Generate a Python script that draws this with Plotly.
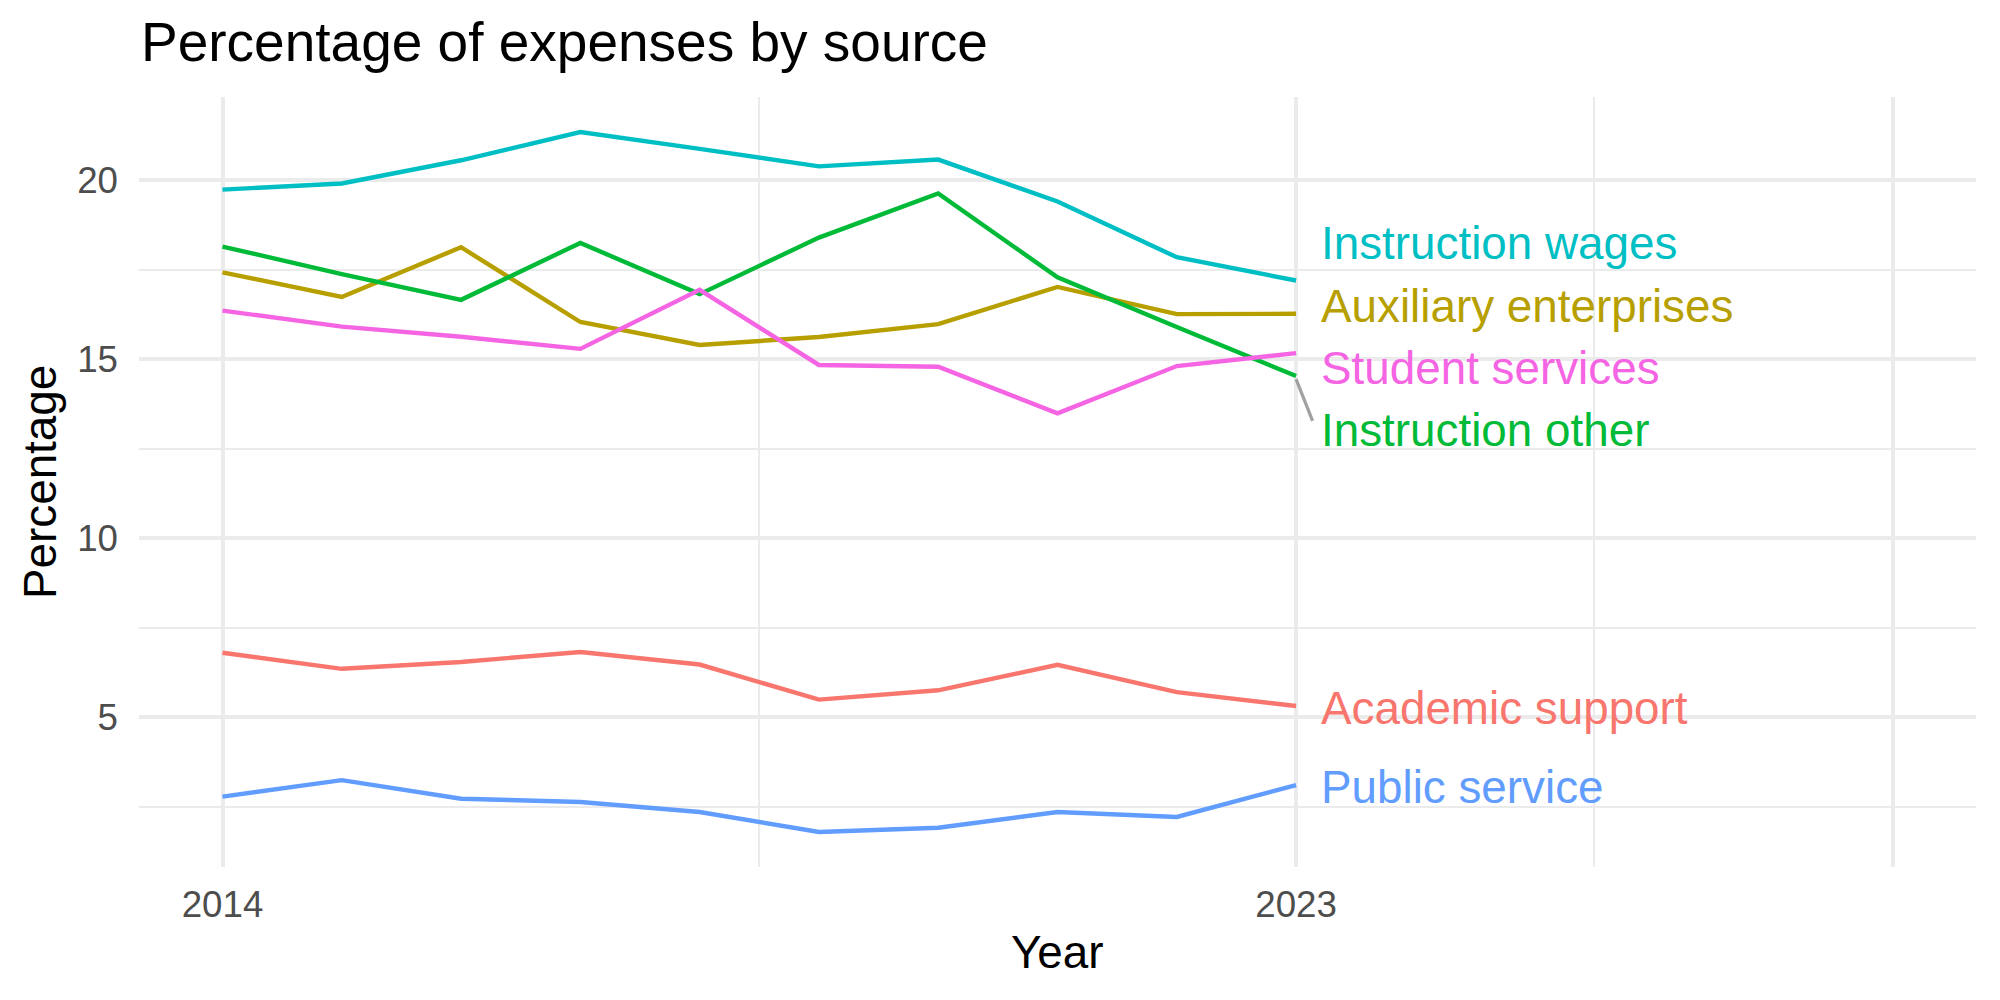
import plotly.graph_objects as go

# ---------------- data ----------------
years = [2014, 2015, 2016, 2017, 2018, 2019, 2020, 2021, 2022, 2023]

academic_support = [6.80, 6.35, 6.54, 6.82, 6.47, 5.49, 5.75, 6.46, 5.70, 5.31]
auxiliary_enterprises = [17.43, 16.74, 18.13, 16.04, 15.40, 15.62, 15.98, 17.02, 16.26, 16.27]
instruction_other = [18.15, 17.38, 16.66, 18.25, 16.82, 18.40, 19.63, 17.29, 15.90, 14.53]
instruction_wages = [19.74, 19.91, 20.56, 21.35, 20.88, 20.39, 20.58, 19.41, 17.85, 17.20]
public_service = [2.78, 3.24, 2.72, 2.63, 2.35, 1.79, 1.91, 2.35, 2.21, 3.10]
student_services = [16.36, 15.91, 15.63, 15.29, 16.94, 14.84, 14.79, 13.49, 14.81, 15.17]

series_names = ["Academic support", "Auxiliary enterprises", "Instruction other",
                "Instruction wages", "Public service", "Student services"]
series_values = [academic_support, auxiliary_enterprises, instruction_other,
                 instruction_wages, public_service, student_services]

x_tick_vals = [2014, 2023, 2028]
x_tick_text = ["2014", "2023", ""]
x_minor_vals = [2018.5, 2025.5]
y_tick_vals = [5, 10, 15, 20]
y_tick_text = ["5", "10", "15", "20"]
y_minor_vals = [2.5, 7.5, 12.5, 17.5]
x_limits = [2014, 2028]

# ---------------- style ----------------
colors = ["#F8766D", "#B79F00", "#00BA38", "#00BFC4", "#619CFF", "#F564E3"]
FONT = "Liberation Sans, Arial, Helvetica, sans-serif"
W, H = 2000, 1000
ML, MR, MT, MB = 139, 24, 97, 133
plot_w = W - ML - MR
plot_h = H - MT - MB

all_vals = [v for s in series_values for v in s]
ymin, ymax = min(all_vals), max(all_vals)
ypad = 0.05 * (ymax - ymin)
yr = [ymin - ypad, ymax + ypad]
xpad = 0.05 * (x_limits[1] - x_limits[0])
xr = [x_limits[0] - xpad, x_limits[1] + xpad]
px_per_y = plot_h / (yr[1] - yr[0])
px_per_x = plot_w / (xr[1] - xr[0])

fig = go.Figure()
for name, vals, col in zip(series_names, series_values, colors):
    fig.add_trace(go.Scatter(x=years, y=vals, mode="lines", name=name,
                             line=dict(color=col, width=4.4), showlegend=False))

# ---------------- repelled end labels ----------------
label_fs = 45.8
spacing = 62.3 / px_per_y  # minimum vertical distance between labels (data units)
order = sorted(range(len(series_names)), key=lambda i: -series_values[i][-1])
pos = {i: series_values[i][-1] for i in order}
moved_set = set()
for _ in range(500):
    moved = False
    for a, b in zip(order[:-1], order[1:]):
        gap = pos[a] - pos[b]
        if gap < spacing - 1e-6:
            d = (spacing - gap) / 2
            pos[a] += d
            pos[b] -= d
            moved = True
            moved_set.update([a, b])
    if not moved:
        break
cluster_nudge_px = -4.5   # repelled group settles slightly lower
label_nudge_px = -2.0

label_dx_px = 23
for i in order:
    last = series_values[i][-1]
    shift_px = label_nudge_px + (cluster_nudge_px if i in moved_set else 0)
    ly = pos[i] + shift_px / px_per_y
    fig.add_annotation(x=years[-1], y=ly, xref="x", yref="y", text=series_names[i],
                       showarrow=False, xanchor="left", yanchor="middle", xshift=label_dx_px,
                       font=dict(family=FONT, size=label_fs, color=colors[i]))
    half_h = 10 / px_per_y
    if last - (ly + half_h) > 0.6:
        fig.add_shape(type="line", xref="x", yref="y",
                      x0=years[-1], y0=last - 3 / px_per_y,
                      x1=years[-1] + 16.5 / px_per_x, y1=ly + half_h,
                      line=dict(color="#a0a0a0", width=3.2))

# ---------------- text ----------------
fig.add_annotation(text="Percentage of expenses by source", xref="paper", yref="paper",
                   x=0, y=1, xanchor="left", yanchor="middle", xshift=0, yshift=55.5,
                   showarrow=False, font=dict(family=FONT, size=55, color="#000000"))
fig.add_annotation(text="Year", xref="paper", yref="paper", x=0.5, y=0,
                   xanchor="center", yanchor="middle", yshift=-85.5,
                   showarrow=False, font=dict(family=FONT, size=45.8, color="#000000"))
fig.add_annotation(text="Percentage", xref="paper", yref="paper", x=0, y=0.5,
                   xanchor="center", yanchor="middle", xshift=-99, textangle=-90,
                   showarrow=False, font=dict(family=FONT, size=45.8, color="#000000"))

grid_major = "#ebebeb"
fig.update_layout(
    width=W, height=H, autosize=False,
    margin=dict(l=ML, r=MR, t=MT, b=MB, pad=0),
    paper_bgcolor="white", plot_bgcolor="white",
    font=dict(family=FONT),
    xaxis=dict(range=xr, tickmode="array", tickvals=x_tick_vals, ticktext=x_tick_text,
               showgrid=True, gridcolor=grid_major, gridwidth=4.4, zeroline=False,
               showline=False, ticks="", ticklabelstandoff=12,
               tickfont=dict(family=FONT, size=36.7, color="#4d4d4d"),
               minor=dict(tickvals=x_minor_vals, showgrid=True, gridcolor=grid_major,
                          gridwidth=2.2, ticks="")),
    yaxis=dict(range=yr, tickmode="array", tickvals=y_tick_vals, ticktext=y_tick_text,
               showgrid=True, gridcolor=grid_major, gridwidth=4.4, zeroline=False,
               showline=False, ticks="", ticklabelstandoff=20,
               tickfont=dict(family=FONT, size=36.7, color="#4d4d4d"),
               minor=dict(tickvals=y_minor_vals, showgrid=True, gridcolor=grid_major,
                          gridwidth=2.2, ticks="")),
)

fig.write_html("out.html")
